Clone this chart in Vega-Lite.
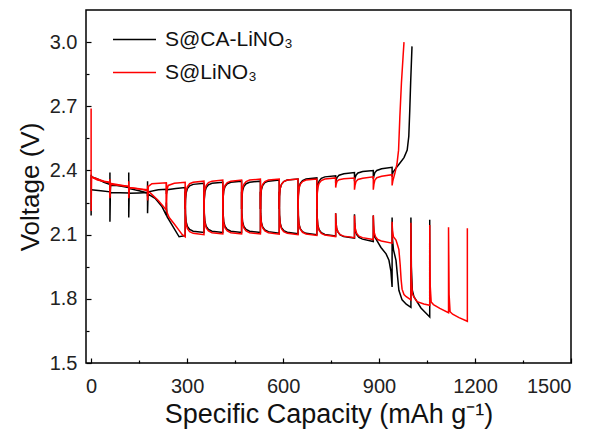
{
"$schema": "https://vega.github.io/schema/vega-lite/v6.json",
"width": 485, "height": 353,
"autosize": {"type": "none"},
"padding": {"left": 86, "top": 10, "right": 29, "bottom": 70},
"background": "white",
"config": {"view": {"stroke": "black", "strokeWidth": 1.5}, "font": "Liberation Sans"},
"data": {"values": [
{"s":"S@CA-LiNO₃","b":"d","x":0,"y":2.19},{"s":"S@CA-LiNO₃","b":"d","x":0,"y":2.38},{"s":"S@CA-LiNO₃","b":"d","x":2,"y":2.37},{"s":"S@CA-LiNO₃","b":"d","x":20,"y":2.36},{"s":"S@CA-LiNO₃","b":"d","x":40,"y":2.345},{"s":"S@CA-LiNO₃","b":"d","x":58.8,"y":2.335},{"s":"S@CA-LiNO₃","b":"d","x":58.8,"y":2.39},{"s":"S@CA-LiNO₃","b":"d","x":58.8,"y":2.16},{"s":"S@CA-LiNO₃","b":"d","x":60.5,"y":2.33},{"s":"S@CA-LiNO₃","b":"d","x":80,"y":2.33},{"s":"S@CA-LiNO₃","b":"d","x":100,"y":2.325},{"s":"S@CA-LiNO₃","b":"d","x":117.6,"y":2.32},{"s":"S@CA-LiNO₃","b":"d","x":117.6,"y":2.39},{"s":"S@CA-LiNO₃","b":"d","x":117.6,"y":2.18},{"s":"S@CA-LiNO₃","b":"d","x":119.3,"y":2.315},{"s":"S@CA-LiNO₃","b":"d","x":150,"y":2.305},{"s":"S@CA-LiNO₃","b":"d","x":176.4,"y":2.295},{"s":"S@CA-LiNO₃","b":"d","x":176.4,"y":2.35},{"s":"S@CA-LiNO₃","b":"d","x":176.4,"y":2.2},{"s":"S@CA-LiNO₃","b":"d","x":178,"y":2.29},{"s":"S@CA-LiNO₃","b":"d","x":200,"y":2.27},{"s":"S@CA-LiNO₃","b":"d","x":222,"y":2.23},{"s":"S@CA-LiNO₃","b":"d","x":235.2,"y":2.19},{"s":"S@CA-LiNO₃","b":"d","x":235.2,"y":2.25},{"s":"S@CA-LiNO₃","b":"d","x":237,"y":2.185},{"s":"S@CA-LiNO₃","b":"d","x":255,"y":2.14},{"s":"S@CA-LiNO₃","b":"d","x":275,"y":2.09},{"s":"S@CA-LiNO₃","b":"d","x":294,"y":2.095},{"s":"S@CA-LiNO₃","b":"d","x":294,"y":2.3},
{"s":"S@CA-LiNO₃","b":"d","x":295,"y":2.2},{"s":"S@CA-LiNO₃","b":"d","x":297,"y":2.16},{"s":"S@CA-LiNO₃","b":"d","x":301,"y":2.138},{"s":"S@CA-LiNO₃","b":"d","x":308,"y":2.124},{"s":"S@CA-LiNO₃","b":"d","x":319,"y":2.116},{"s":"S@CA-LiNO₃","b":"d","x":352.8,"y":2.11},{"s":"S@CA-LiNO₃","b":"d","x":352.8,"y":2.3},
{"s":"S@CA-LiNO₃","b":"d","x":353.8,"y":2.2},{"s":"S@CA-LiNO₃","b":"d","x":355.8,"y":2.16},{"s":"S@CA-LiNO₃","b":"d","x":359.8,"y":2.138},{"s":"S@CA-LiNO₃","b":"d","x":366.8,"y":2.124},{"s":"S@CA-LiNO₃","b":"d","x":377.8,"y":2.116},{"s":"S@CA-LiNO₃","b":"d","x":411.6,"y":2.11},{"s":"S@CA-LiNO₃","b":"d","x":411.6,"y":2.3},
{"s":"S@CA-LiNO₃","b":"d","x":412.6,"y":2.2},{"s":"S@CA-LiNO₃","b":"d","x":414.6,"y":2.16},{"s":"S@CA-LiNO₃","b":"d","x":418.6,"y":2.138},{"s":"S@CA-LiNO₃","b":"d","x":425.6,"y":2.124},{"s":"S@CA-LiNO₃","b":"d","x":436.6,"y":2.116},{"s":"S@CA-LiNO₃","b":"d","x":470.4,"y":2.11},{"s":"S@CA-LiNO₃","b":"d","x":470.4,"y":2.3},
{"s":"S@CA-LiNO₃","b":"d","x":471.4,"y":2.2},{"s":"S@CA-LiNO₃","b":"d","x":473.4,"y":2.16},{"s":"S@CA-LiNO₃","b":"d","x":477.4,"y":2.138},{"s":"S@CA-LiNO₃","b":"d","x":484.4,"y":2.124},{"s":"S@CA-LiNO₃","b":"d","x":495.4,"y":2.116},{"s":"S@CA-LiNO₃","b":"d","x":529.2,"y":2.11},{"s":"S@CA-LiNO₃","b":"d","x":529.2,"y":2.3},
{"s":"S@CA-LiNO₃","b":"d","x":530.2,"y":2.198},{"s":"S@CA-LiNO₃","b":"d","x":532.2,"y":2.158},{"s":"S@CA-LiNO₃","b":"d","x":536.2,"y":2.136},{"s":"S@CA-LiNO₃","b":"d","x":543.2,"y":2.122},{"s":"S@CA-LiNO₃","b":"d","x":554.2,"y":2.114},{"s":"S@CA-LiNO₃","b":"d","x":588,"y":2.107},{"s":"S@CA-LiNO₃","b":"d","x":588,"y":2.3},
{"s":"S@CA-LiNO₃","b":"d","x":589,"y":2.195},{"s":"S@CA-LiNO₃","b":"d","x":591,"y":2.155},{"s":"S@CA-LiNO₃","b":"d","x":595,"y":2.133},{"s":"S@CA-LiNO₃","b":"d","x":602,"y":2.119},{"s":"S@CA-LiNO₃","b":"d","x":613,"y":2.111},{"s":"S@CA-LiNO₃","b":"d","x":646.8,"y":2.104},{"s":"S@CA-LiNO₃","b":"d","x":646.8,"y":2.3},
{"s":"S@CA-LiNO₃","b":"d","x":647.8,"y":2.19},{"s":"S@CA-LiNO₃","b":"d","x":649.8,"y":2.15},{"s":"S@CA-LiNO₃","b":"d","x":653.8,"y":2.128},{"s":"S@CA-LiNO₃","b":"d","x":660.8,"y":2.114},{"s":"S@CA-LiNO₃","b":"d","x":671.8,"y":2.106},{"s":"S@CA-LiNO₃","b":"d","x":705.6,"y":2.1},{"s":"S@CA-LiNO₃","b":"d","x":705.6,"y":2.3},
{"s":"S@CA-LiNO₃","b":"d","x":706.6,"y":2.185},{"s":"S@CA-LiNO₃","b":"d","x":708.6,"y":2.145},{"s":"S@CA-LiNO₃","b":"d","x":712.6,"y":2.123},{"s":"S@CA-LiNO₃","b":"d","x":719.6,"y":2.109},{"s":"S@CA-LiNO₃","b":"d","x":730.6,"y":2.101},{"s":"S@CA-LiNO₃","b":"d","x":764.4,"y":2.094},{"s":"S@CA-LiNO₃","b":"d","x":764.4,"y":2.2},
{"s":"S@CA-LiNO₃","b":"d","x":765.4,"y":2.16},{"s":"S@CA-LiNO₃","b":"d","x":767.4,"y":2.13},{"s":"S@CA-LiNO₃","b":"d","x":771.4,"y":2.113},{"s":"S@CA-LiNO₃","b":"d","x":778.4,"y":2.099},{"s":"S@CA-LiNO₃","b":"d","x":789.4,"y":2.091},{"s":"S@CA-LiNO₃","b":"d","x":823.2,"y":2.084},{"s":"S@CA-LiNO₃","b":"d","x":823.2,"y":2.195},
{"s":"S@CA-LiNO₃","b":"d","x":824.2,"y":2.15},{"s":"S@CA-LiNO₃","b":"d","x":826.2,"y":2.118},{"s":"S@CA-LiNO₃","b":"d","x":830.2,"y":2.1},{"s":"S@CA-LiNO₃","b":"d","x":837.2,"y":2.087},{"s":"S@CA-LiNO₃","b":"d","x":848.2,"y":2.079},{"s":"S@CA-LiNO₃","b":"d","x":882,"y":2.068},{"s":"S@CA-LiNO₃","b":"d","x":882,"y":2.19},
{"s":"S@CA-LiNO₃","b":"d","x":883.5,"y":2.12},{"s":"S@CA-LiNO₃","b":"d","x":886,"y":2.09},{"s":"S@CA-LiNO₃","b":"d","x":892,"y":2.075},{"s":"S@CA-LiNO₃","b":"d","x":906,"y":2.04},{"s":"S@CA-LiNO₃","b":"d","x":922,"y":2.01},{"s":"S@CA-LiNO₃","b":"d","x":931,"y":1.98},{"s":"S@CA-LiNO₃","b":"d","x":937,"y":1.93},{"s":"S@CA-LiNO₃","b":"d","x":940.8,"y":1.855},{"s":"S@CA-LiNO₃","b":"d","x":940.8,"y":2.18},
{"s":"S@CA-LiNO₃","b":"d","x":942,"y":2.08},{"s":"S@CA-LiNO₃","b":"d","x":945,"y":2.03},{"s":"S@CA-LiNO₃","b":"d","x":953,"y":1.98},{"s":"S@CA-LiNO₃","b":"d","x":962,"y":1.84},{"s":"S@CA-LiNO₃","b":"d","x":972,"y":1.795},{"s":"S@CA-LiNO₃","b":"d","x":985,"y":1.775},{"s":"S@CA-LiNO₃","b":"d","x":999.6,"y":1.76},{"s":"S@CA-LiNO₃","b":"d","x":999.6,"y":2.18},
{"s":"S@CA-LiNO₃","b":"d","x":1001,"y":1.95},{"s":"S@CA-LiNO₃","b":"d","x":1004,"y":1.84},{"s":"S@CA-LiNO₃","b":"d","x":1009,"y":1.81},{"s":"S@CA-LiNO₃","b":"d","x":1031,"y":1.757},{"s":"S@CA-LiNO₃","b":"d","x":1058.4,"y":1.715},{"s":"S@CA-LiNO₃","b":"d","x":1058.4,"y":2.17},

{"s":"S@CA-LiNO₃","b":"c","x":0,"y":2.31},{"s":"S@CA-LiNO₃","b":"c","x":30,"y":2.305},{"s":"S@CA-LiNO₃","b":"c","x":58.8,"y":2.3},{"s":"S@CA-LiNO₃","b":"c","x":58.8,"y":2.285},{"s":"S@CA-LiNO₃","b":"c","x":61,"y":2.297},{"s":"S@CA-LiNO₃","b":"c","x":90,"y":2.296},{"s":"S@CA-LiNO₃","b":"c","x":117.6,"y":2.295},{"s":"S@CA-LiNO₃","b":"c","x":117.6,"y":2.28},{"s":"S@CA-LiNO₃","b":"c","x":120,"y":2.293},{"s":"S@CA-LiNO₃","b":"c","x":150,"y":2.295},{"s":"S@CA-LiNO₃","b":"c","x":176.4,"y":2.297},{"s":"S@CA-LiNO₃","b":"c","x":176.4,"y":2.28},{"s":"S@CA-LiNO₃","b":"c","x":179,"y":2.3},{"s":"S@CA-LiNO₃","b":"c","x":210,"y":2.31},{"s":"S@CA-LiNO₃","b":"c","x":235.2,"y":2.312},{"s":"S@CA-LiNO₃","b":"c","x":235.2,"y":2.29},{"s":"S@CA-LiNO₃","b":"c","x":238,"y":2.31},{"s":"S@CA-LiNO₃","b":"c","x":265,"y":2.316},{"s":"S@CA-LiNO₃","b":"c","x":294,"y":2.32},{"s":"S@CA-LiNO₃","b":"c","x":294,"y":2.22},
{"s":"S@CA-LiNO₃","b":"c","x":295,"y":2.26},{"s":"S@CA-LiNO₃","b":"c","x":297,"y":2.295},{"s":"S@CA-LiNO₃","b":"c","x":301,"y":2.315},{"s":"S@CA-LiNO₃","b":"c","x":308,"y":2.328},{"s":"S@CA-LiNO₃","b":"c","x":319,"y":2.335},{"s":"S@CA-LiNO₃","b":"c","x":352.8,"y":2.34},{"s":"S@CA-LiNO₃","b":"c","x":352.8,"y":2.22},
{"s":"S@CA-LiNO₃","b":"c","x":353.8,"y":2.265},{"s":"S@CA-LiNO₃","b":"c","x":355.8,"y":2.3},{"s":"S@CA-LiNO₃","b":"c","x":359.8,"y":2.32},{"s":"S@CA-LiNO₃","b":"c","x":366.8,"y":2.333},{"s":"S@CA-LiNO₃","b":"c","x":377.8,"y":2.34},{"s":"S@CA-LiNO₃","b":"c","x":411.6,"y":2.345},{"s":"S@CA-LiNO₃","b":"c","x":411.6,"y":2.22},
{"s":"S@CA-LiNO₃","b":"c","x":412.6,"y":2.27},{"s":"S@CA-LiNO₃","b":"c","x":414.6,"y":2.305},{"s":"S@CA-LiNO₃","b":"c","x":418.6,"y":2.325},{"s":"S@CA-LiNO₃","b":"c","x":425.6,"y":2.338},{"s":"S@CA-LiNO₃","b":"c","x":436.6,"y":2.345},{"s":"S@CA-LiNO₃","b":"c","x":470.4,"y":2.35},{"s":"S@CA-LiNO₃","b":"c","x":470.4,"y":2.22},
{"s":"S@CA-LiNO₃","b":"c","x":471.4,"y":2.27},{"s":"S@CA-LiNO₃","b":"c","x":473.4,"y":2.305},{"s":"S@CA-LiNO₃","b":"c","x":477.4,"y":2.325},{"s":"S@CA-LiNO₃","b":"c","x":484.4,"y":2.338},{"s":"S@CA-LiNO₃","b":"c","x":495.4,"y":2.345},{"s":"S@CA-LiNO₃","b":"c","x":529.2,"y":2.35},{"s":"S@CA-LiNO₃","b":"c","x":529.2,"y":2.22},
{"s":"S@CA-LiNO₃","b":"c","x":530.2,"y":2.275},{"s":"S@CA-LiNO₃","b":"c","x":532.2,"y":2.31},{"s":"S@CA-LiNO₃","b":"c","x":536.2,"y":2.33},{"s":"S@CA-LiNO₃","b":"c","x":543.2,"y":2.343},{"s":"S@CA-LiNO₃","b":"c","x":554.2,"y":2.35},{"s":"S@CA-LiNO₃","b":"c","x":588,"y":2.355},{"s":"S@CA-LiNO₃","b":"c","x":588,"y":2.22},
{"s":"S@CA-LiNO₃","b":"c","x":589,"y":2.28},{"s":"S@CA-LiNO₃","b":"c","x":591,"y":2.315},{"s":"S@CA-LiNO₃","b":"c","x":595,"y":2.335},{"s":"S@CA-LiNO₃","b":"c","x":602,"y":2.348},{"s":"S@CA-LiNO₃","b":"c","x":613,"y":2.355},{"s":"S@CA-LiNO₃","b":"c","x":646.8,"y":2.36},{"s":"S@CA-LiNO₃","b":"c","x":646.8,"y":2.22},
{"s":"S@CA-LiNO₃","b":"c","x":647.8,"y":2.285},{"s":"S@CA-LiNO₃","b":"c","x":649.8,"y":2.32},{"s":"S@CA-LiNO₃","b":"c","x":653.8,"y":2.34},{"s":"S@CA-LiNO₃","b":"c","x":660.8,"y":2.353},{"s":"S@CA-LiNO₃","b":"c","x":671.8,"y":2.36},{"s":"S@CA-LiNO₃","b":"c","x":705.6,"y":2.365},{"s":"S@CA-LiNO₃","b":"c","x":705.6,"y":2.22},
{"s":"S@CA-LiNO₃","b":"c","x":706.6,"y":2.295},{"s":"S@CA-LiNO₃","b":"c","x":708.6,"y":2.33},{"s":"S@CA-LiNO₃","b":"c","x":712.6,"y":2.35},{"s":"S@CA-LiNO₃","b":"c","x":719.6,"y":2.363},{"s":"S@CA-LiNO₃","b":"c","x":730.6,"y":2.37},{"s":"S@CA-LiNO₃","b":"c","x":764.4,"y":2.375},{"s":"S@CA-LiNO₃","b":"c","x":764.4,"y":2.34},
{"s":"S@CA-LiNO₃","b":"c","x":766,"y":2.355},{"s":"S@CA-LiNO₃","b":"c","x":769,"y":2.368},{"s":"S@CA-LiNO₃","b":"c","x":775,"y":2.378},{"s":"S@CA-LiNO₃","b":"c","x":790,"y":2.385},{"s":"S@CA-LiNO₃","b":"c","x":823.2,"y":2.39},{"s":"S@CA-LiNO₃","b":"c","x":823.2,"y":2.35},
{"s":"S@CA-LiNO₃","b":"c","x":825,"y":2.365},{"s":"S@CA-LiNO₃","b":"c","x":828,"y":2.378},{"s":"S@CA-LiNO₃","b":"c","x":834,"y":2.388},{"s":"S@CA-LiNO₃","b":"c","x":849,"y":2.395},{"s":"S@CA-LiNO₃","b":"c","x":882,"y":2.4},{"s":"S@CA-LiNO₃","b":"c","x":882,"y":2.36},
{"s":"S@CA-LiNO₃","b":"c","x":884,"y":2.375},{"s":"S@CA-LiNO₃","b":"c","x":887,"y":2.39},{"s":"S@CA-LiNO₃","b":"c","x":893,"y":2.4},{"s":"S@CA-LiNO₃","b":"c","x":908,"y":2.408},{"s":"S@CA-LiNO₃","b":"c","x":940.8,"y":2.415},{"s":"S@CA-LiNO₃","b":"c","x":940.8,"y":2.37},
{"s":"S@CA-LiNO₃","b":"c","x":943,"y":2.39},{"s":"S@CA-LiNO₃","b":"c","x":950,"y":2.405},{"s":"S@CA-LiNO₃","b":"c","x":963,"y":2.43},{"s":"S@CA-LiNO₃","b":"c","x":978,"y":2.46},{"s":"S@CA-LiNO₃","b":"c","x":988,"y":2.495},{"s":"S@CA-LiNO₃","b":"c","x":993,"y":2.56},{"s":"S@CA-LiNO₃","b":"c","x":996,"y":2.68},{"s":"S@CA-LiNO₃","b":"c","x":999,"y":2.82},{"s":"S@CA-LiNO₃","b":"c","x":1001,"y":2.9},{"s":"S@CA-LiNO₃","b":"c","x":1003,"y":2.98},

{"s":"S@LiNO₃","b":"d","x":0,"y":2.69},{"s":"S@LiNO₃","b":"d","x":0,"y":2.21},{"s":"S@LiNO₃","b":"d","x":1.5,"y":2.37},{"s":"S@LiNO₃","b":"d","x":20,"y":2.36},{"s":"S@LiNO₃","b":"d","x":40,"y":2.35},{"s":"S@LiNO₃","b":"d","x":58.8,"y":2.345},{"s":"S@LiNO₃","b":"d","x":58.8,"y":2.36},{"s":"S@LiNO₃","b":"d","x":58.8,"y":2.27},{"s":"S@LiNO₃","b":"d","x":60.5,"y":2.34},{"s":"S@LiNO₃","b":"d","x":117.6,"y":2.325},{"s":"S@LiNO₃","b":"d","x":117.6,"y":2.35},{"s":"S@LiNO₃","b":"d","x":117.6,"y":2.27},{"s":"S@LiNO₃","b":"d","x":119,"y":2.32},{"s":"S@LiNO₃","b":"d","x":150,"y":2.315},{"s":"S@LiNO₃","b":"d","x":176.4,"y":2.305},{"s":"S@LiNO₃","b":"d","x":176.4,"y":2.33},{"s":"S@LiNO₃","b":"d","x":176.4,"y":2.26},{"s":"S@LiNO₃","b":"d","x":178,"y":2.3},{"s":"S@LiNO₃","b":"d","x":185,"y":2.295},{"s":"S@LiNO₃","b":"d","x":210,"y":2.26},{"s":"S@LiNO₃","b":"d","x":235.2,"y":2.215},{"s":"S@LiNO₃","b":"d","x":235.2,"y":2.34},{"s":"S@LiNO₃","b":"d","x":235.2,"y":2.22},{"s":"S@LiNO₃","b":"d","x":237,"y":2.205},{"s":"S@LiNO₃","b":"d","x":244,"y":2.18},{"s":"S@LiNO₃","b":"d","x":260,"y":2.15},{"s":"S@LiNO₃","b":"d","x":275,"y":2.12},{"s":"S@LiNO₃","b":"d","x":285,"y":2.1},{"s":"S@LiNO₃","b":"d","x":294,"y":2.09},{"s":"S@LiNO₃","b":"d","x":294,"y":2.3},
{"s":"S@LiNO₃","b":"d","x":295,"y":2.19},{"s":"S@LiNO₃","b":"d","x":297,"y":2.15},{"s":"S@LiNO₃","b":"d","x":301,"y":2.128},{"s":"S@LiNO₃","b":"d","x":308,"y":2.114},{"s":"S@LiNO₃","b":"d","x":319,"y":2.106},{"s":"S@LiNO₃","b":"d","x":352.8,"y":2.1},{"s":"S@LiNO₃","b":"d","x":352.8,"y":2.3},
{"s":"S@LiNO₃","b":"d","x":353.8,"y":2.193},{"s":"S@LiNO₃","b":"d","x":355.8,"y":2.153},{"s":"S@LiNO₃","b":"d","x":359.8,"y":2.131},{"s":"S@LiNO₃","b":"d","x":366.8,"y":2.117},{"s":"S@LiNO₃","b":"d","x":377.8,"y":2.109},{"s":"S@LiNO₃","b":"d","x":411.6,"y":2.103},{"s":"S@LiNO₃","b":"d","x":411.6,"y":2.3},
{"s":"S@LiNO₃","b":"d","x":412.6,"y":2.193},{"s":"S@LiNO₃","b":"d","x":414.6,"y":2.153},{"s":"S@LiNO₃","b":"d","x":418.6,"y":2.131},{"s":"S@LiNO₃","b":"d","x":425.6,"y":2.117},{"s":"S@LiNO₃","b":"d","x":436.6,"y":2.109},{"s":"S@LiNO₃","b":"d","x":470.4,"y":2.103},{"s":"S@LiNO₃","b":"d","x":470.4,"y":2.3},
{"s":"S@LiNO₃","b":"d","x":471.4,"y":2.193},{"s":"S@LiNO₃","b":"d","x":473.4,"y":2.153},{"s":"S@LiNO₃","b":"d","x":477.4,"y":2.131},{"s":"S@LiNO₃","b":"d","x":484.4,"y":2.117},{"s":"S@LiNO₃","b":"d","x":495.4,"y":2.109},{"s":"S@LiNO₃","b":"d","x":529.2,"y":2.103},{"s":"S@LiNO₃","b":"d","x":529.2,"y":2.3},
{"s":"S@LiNO₃","b":"d","x":530.2,"y":2.193},{"s":"S@LiNO₃","b":"d","x":532.2,"y":2.153},{"s":"S@LiNO₃","b":"d","x":536.2,"y":2.131},{"s":"S@LiNO₃","b":"d","x":543.2,"y":2.117},{"s":"S@LiNO₃","b":"d","x":554.2,"y":2.109},{"s":"S@LiNO₃","b":"d","x":588,"y":2.102},{"s":"S@LiNO₃","b":"d","x":588,"y":2.3},
{"s":"S@LiNO₃","b":"d","x":589,"y":2.19},{"s":"S@LiNO₃","b":"d","x":591,"y":2.15},{"s":"S@LiNO₃","b":"d","x":595,"y":2.128},{"s":"S@LiNO₃","b":"d","x":602,"y":2.114},{"s":"S@LiNO₃","b":"d","x":613,"y":2.106},{"s":"S@LiNO₃","b":"d","x":646.8,"y":2.1},{"s":"S@LiNO₃","b":"d","x":646.8,"y":2.3},
{"s":"S@LiNO₃","b":"d","x":647.8,"y":2.187},{"s":"S@LiNO₃","b":"d","x":649.8,"y":2.147},{"s":"S@LiNO₃","b":"d","x":653.8,"y":2.125},{"s":"S@LiNO₃","b":"d","x":660.8,"y":2.111},{"s":"S@LiNO₃","b":"d","x":671.8,"y":2.103},{"s":"S@LiNO₃","b":"d","x":705.6,"y":2.096},{"s":"S@LiNO₃","b":"d","x":705.6,"y":2.3},
{"s":"S@LiNO₃","b":"d","x":706.6,"y":2.182},{"s":"S@LiNO₃","b":"d","x":708.6,"y":2.142},{"s":"S@LiNO₃","b":"d","x":712.6,"y":2.12},{"s":"S@LiNO₃","b":"d","x":719.6,"y":2.106},{"s":"S@LiNO₃","b":"d","x":730.6,"y":2.098},{"s":"S@LiNO₃","b":"d","x":764.4,"y":2.091},{"s":"S@LiNO₃","b":"d","x":764.4,"y":2.2},
{"s":"S@LiNO₃","b":"d","x":765.4,"y":2.16},{"s":"S@LiNO₃","b":"d","x":767.4,"y":2.13},{"s":"S@LiNO₃","b":"d","x":771.4,"y":2.113},{"s":"S@LiNO₃","b":"d","x":778.4,"y":2.1},{"s":"S@LiNO₃","b":"d","x":789.4,"y":2.093},{"s":"S@LiNO₃","b":"d","x":823.2,"y":2.086},{"s":"S@LiNO₃","b":"d","x":823.2,"y":2.19},
{"s":"S@LiNO₃","b":"d","x":824.2,"y":2.155},{"s":"S@LiNO₃","b":"d","x":826.2,"y":2.125},{"s":"S@LiNO₃","b":"d","x":830.2,"y":2.106},{"s":"S@LiNO₃","b":"d","x":837.2,"y":2.093},{"s":"S@LiNO₃","b":"d","x":848.2,"y":2.086},{"s":"S@LiNO₃","b":"d","x":882,"y":2.077},{"s":"S@LiNO₃","b":"d","x":882,"y":2.19},
{"s":"S@LiNO₃","b":"d","x":883,"y":2.145},{"s":"S@LiNO₃","b":"d","x":885,"y":2.11},{"s":"S@LiNO₃","b":"d","x":889,"y":2.09},{"s":"S@LiNO₃","b":"d","x":896,"y":2.077},{"s":"S@LiNO₃","b":"d","x":907,"y":2.07},{"s":"S@LiNO₃","b":"d","x":940.8,"y":2.06},{"s":"S@LiNO₃","b":"d","x":940.8,"y":2.16},
{"s":"S@LiNO₃","b":"d","x":942,"y":2.12},{"s":"S@LiNO₃","b":"d","x":945,"y":2.09},{"s":"S@LiNO₃","b":"d","x":953,"y":2.075},{"s":"S@LiNO₃","b":"d","x":958,"y":2.05},{"s":"S@LiNO₃","b":"d","x":962,"y":2.03},{"s":"S@LiNO₃","b":"d","x":966,"y":1.96},{"s":"S@LiNO₃","b":"d","x":969,"y":1.89},{"s":"S@LiNO₃","b":"d","x":972,"y":1.845},{"s":"S@LiNO₃","b":"d","x":978,"y":1.82},{"s":"S@LiNO₃","b":"d","x":985,"y":1.81},{"s":"S@LiNO₃","b":"d","x":999.6,"y":1.795},{"s":"S@LiNO₃","b":"d","x":999.6,"y":2.155},
{"s":"S@LiNO₃","b":"d","x":1001,"y":1.9},{"s":"S@LiNO₃","b":"d","x":1004,"y":1.825},{"s":"S@LiNO₃","b":"d","x":1009,"y":1.808},{"s":"S@LiNO₃","b":"d","x":1019,"y":1.787},{"s":"S@LiNO₃","b":"d","x":1040,"y":1.776},{"s":"S@LiNO₃","b":"d","x":1058.4,"y":1.77},{"s":"S@LiNO₃","b":"d","x":1058.4,"y":2.145},
{"s":"S@LiNO₃","b":"d","x":1060,"y":1.86},{"s":"S@LiNO₃","b":"d","x":1063,"y":1.785},{"s":"S@LiNO₃","b":"d","x":1070,"y":1.773},{"s":"S@LiNO₃","b":"d","x":1090,"y":1.755},{"s":"S@LiNO₃","b":"d","x":1117.2,"y":1.735},{"s":"S@LiNO₃","b":"d","x":1117.2,"y":2.135},
{"s":"S@LiNO₃","b":"d","x":1119,"y":1.82},{"s":"S@LiNO₃","b":"d","x":1122,"y":1.74},{"s":"S@LiNO₃","b":"d","x":1130,"y":1.728},{"s":"S@LiNO₃","b":"d","x":1150,"y":1.712},{"s":"S@LiNO₃","b":"d","x":1176,"y":1.695},{"s":"S@LiNO₃","b":"d","x":1176,"y":2.13},

{"s":"S@LiNO₃","b":"c","x":0,"y":2.37},{"s":"S@LiNO₃","b":"c","x":20,"y":2.355},{"s":"S@LiNO₃","b":"c","x":58.8,"y":2.342},{"s":"S@LiNO₃","b":"c","x":58.8,"y":2.28},{"s":"S@LiNO₃","b":"c","x":61,"y":2.335},{"s":"S@LiNO₃","b":"c","x":90,"y":2.33},{"s":"S@LiNO₃","b":"c","x":117.6,"y":2.325},{"s":"S@LiNO₃","b":"c","x":117.6,"y":2.28},{"s":"S@LiNO₃","b":"c","x":120,"y":2.32},{"s":"S@LiNO₃","b":"c","x":150,"y":2.313},{"s":"S@LiNO₃","b":"c","x":176.4,"y":2.31},{"s":"S@LiNO₃","b":"c","x":176.4,"y":2.28},{"s":"S@LiNO₃","b":"c","x":179,"y":2.325},{"s":"S@LiNO₃","b":"c","x":190,"y":2.338},{"s":"S@LiNO₃","b":"c","x":235.2,"y":2.342},{"s":"S@LiNO₃","b":"c","x":235.2,"y":2.23},{"s":"S@LiNO₃","b":"c","x":237,"y":2.31},{"s":"S@LiNO₃","b":"c","x":241,"y":2.33},{"s":"S@LiNO₃","b":"c","x":260,"y":2.34},{"s":"S@LiNO₃","b":"c","x":294,"y":2.345},{"s":"S@LiNO₃","b":"c","x":294,"y":2.22},
{"s":"S@LiNO₃","b":"c","x":295,"y":2.27},{"s":"S@LiNO₃","b":"c","x":297,"y":2.305},{"s":"S@LiNO₃","b":"c","x":301,"y":2.325},{"s":"S@LiNO₃","b":"c","x":308,"y":2.338},{"s":"S@LiNO₃","b":"c","x":319,"y":2.345},{"s":"S@LiNO₃","b":"c","x":352.8,"y":2.35},{"s":"S@LiNO₃","b":"c","x":352.8,"y":2.22},
{"s":"S@LiNO₃","b":"c","x":353.8,"y":2.275},{"s":"S@LiNO₃","b":"c","x":355.8,"y":2.31},{"s":"S@LiNO₃","b":"c","x":359.8,"y":2.33},{"s":"S@LiNO₃","b":"c","x":366.8,"y":2.343},{"s":"S@LiNO₃","b":"c","x":377.8,"y":2.35},{"s":"S@LiNO₃","b":"c","x":411.6,"y":2.355},{"s":"S@LiNO₃","b":"c","x":411.6,"y":2.22},
{"s":"S@LiNO₃","b":"c","x":412.6,"y":2.275},{"s":"S@LiNO₃","b":"c","x":414.6,"y":2.31},{"s":"S@LiNO₃","b":"c","x":418.6,"y":2.33},{"s":"S@LiNO₃","b":"c","x":425.6,"y":2.343},{"s":"S@LiNO₃","b":"c","x":436.6,"y":2.35},{"s":"S@LiNO₃","b":"c","x":470.4,"y":2.355},{"s":"S@LiNO₃","b":"c","x":470.4,"y":2.22},
{"s":"S@LiNO₃","b":"c","x":471.4,"y":2.28},{"s":"S@LiNO₃","b":"c","x":473.4,"y":2.315},{"s":"S@LiNO₃","b":"c","x":477.4,"y":2.335},{"s":"S@LiNO₃","b":"c","x":484.4,"y":2.348},{"s":"S@LiNO₃","b":"c","x":495.4,"y":2.355},{"s":"S@LiNO₃","b":"c","x":529.2,"y":2.36},{"s":"S@LiNO₃","b":"c","x":529.2,"y":2.22},
{"s":"S@LiNO₃","b":"c","x":530.2,"y":2.28},{"s":"S@LiNO₃","b":"c","x":532.2,"y":2.315},{"s":"S@LiNO₃","b":"c","x":536.2,"y":2.335},{"s":"S@LiNO₃","b":"c","x":543.2,"y":2.348},{"s":"S@LiNO₃","b":"c","x":554.2,"y":2.355},{"s":"S@LiNO₃","b":"c","x":588,"y":2.36},{"s":"S@LiNO₃","b":"c","x":588,"y":2.22},
{"s":"S@LiNO₃","b":"c","x":589,"y":2.28},{"s":"S@LiNO₃","b":"c","x":591,"y":2.315},{"s":"S@LiNO₃","b":"c","x":595,"y":2.335},{"s":"S@LiNO₃","b":"c","x":602,"y":2.348},{"s":"S@LiNO₃","b":"c","x":613,"y":2.355},{"s":"S@LiNO₃","b":"c","x":646.8,"y":2.36},{"s":"S@LiNO₃","b":"c","x":646.8,"y":2.22},
{"s":"S@LiNO₃","b":"c","x":647.8,"y":2.28},{"s":"S@LiNO₃","b":"c","x":649.8,"y":2.315},{"s":"S@LiNO₃","b":"c","x":653.8,"y":2.335},{"s":"S@LiNO₃","b":"c","x":660.8,"y":2.348},{"s":"S@LiNO₃","b":"c","x":671.8,"y":2.355},{"s":"S@LiNO₃","b":"c","x":705.6,"y":2.36},{"s":"S@LiNO₃","b":"c","x":705.6,"y":2.22},
{"s":"S@LiNO₃","b":"c","x":706.6,"y":2.285},{"s":"S@LiNO₃","b":"c","x":708.6,"y":2.32},{"s":"S@LiNO₃","b":"c","x":712.6,"y":2.34},{"s":"S@LiNO₃","b":"c","x":719.6,"y":2.353},{"s":"S@LiNO₃","b":"c","x":730.6,"y":2.36},{"s":"S@LiNO₃","b":"c","x":764.4,"y":2.365},{"s":"S@LiNO₃","b":"c","x":764.4,"y":2.32},
{"s":"S@LiNO₃","b":"c","x":766,"y":2.335},{"s":"S@LiNO₃","b":"c","x":769,"y":2.35},{"s":"S@LiNO₃","b":"c","x":775,"y":2.357},{"s":"S@LiNO₃","b":"c","x":790,"y":2.361},{"s":"S@LiNO₃","b":"c","x":823.2,"y":2.365},{"s":"S@LiNO₃","b":"c","x":823.2,"y":2.31},
{"s":"S@LiNO₃","b":"c","x":825,"y":2.33},{"s":"S@LiNO₃","b":"c","x":828,"y":2.348},{"s":"S@LiNO₃","b":"c","x":834,"y":2.358},{"s":"S@LiNO₃","b":"c","x":849,"y":2.364},{"s":"S@LiNO₃","b":"c","x":882,"y":2.37},{"s":"S@LiNO₃","b":"c","x":882,"y":2.31},
{"s":"S@LiNO₃","b":"c","x":884,"y":2.335},{"s":"S@LiNO₃","b":"c","x":887,"y":2.355},{"s":"S@LiNO₃","b":"c","x":893,"y":2.366},{"s":"S@LiNO₃","b":"c","x":908,"y":2.373},{"s":"S@LiNO₃","b":"c","x":940.8,"y":2.38},{"s":"S@LiNO₃","b":"c","x":940.8,"y":2.33},
{"s":"S@LiNO₃","b":"c","x":943,"y":2.35},{"s":"S@LiNO₃","b":"c","x":950,"y":2.39},{"s":"S@LiNO₃","b":"c","x":956,"y":2.43},{"s":"S@LiNO₃","b":"c","x":961,"y":2.495},{"s":"S@LiNO₃","b":"c","x":965,"y":2.65},{"s":"S@LiNO₃","b":"c","x":970,"y":2.81},{"s":"S@LiNO₃","b":"c","x":975,"y":2.93},{"s":"S@LiNO₃","b":"c","x":978,"y":3.0}
]},
"mark": {"type": "line", "strokeWidth": 1.5},
"encoding": {
  "x": {"field": "x", "type": "quantitative",
        "scale": {"domain": [-16, 1500], "nice": false, "zero": false},
        "axis": {"orient": "bottom", "values": [0, 150, 300, 450, 600, 750, 900, 1050, 1200, 1350, 1500], "format": "d",
                 "labelExpr": "datum.value % 300 == 0 ? datum.label : ''",
                 "tickSize": {"condition": {"test": "datum.value % 300 != 0", "value": -3}, "value": -5},
                 "tickColor": "black", "tickWidth": 1.2, "domain": false, "grid": false,
                 "labelFontSize": 20, "labelColor": "#222", "labelPadding": 18, "labelFont": "Liberation Sans",
                 "title": "Specific Capacity (mAh g⁻¹)", "titleFontSize": 27, "titleFontWeight": "normal", "titleColor": "#111", "titlePadding": 5, "titleFont": "Liberation Sans"}},
  "y": {"field": "y", "type": "quantitative",
        "scale": {"domain": [1.5, 3.15], "nice": false, "zero": false},
        "axis": {"orient": "left", "values": [1.5, 1.65, 1.8, 1.95, 2.1, 2.25, 2.4, 2.55, 2.7, 2.85, 3.0], "format": ".1f",
                 "labelExpr": "abs(datum.value*10 - round(datum.value*10)) > 0.2 ? '' : datum.label",
                 "tickSize": {"condition": {"test": "abs(datum.value*10 - round(datum.value*10)) > 0.2", "value": -3}, "value": -5},
                 "tickColor": "black", "tickWidth": 1.2, "domain": false, "grid": false,
                 "labelFontSize": 20, "labelColor": "#222", "labelPadding": 14, "labelFont": "Liberation Sans",
                 "title": "Voltage (V)", "titleFontSize": 26, "titleFontWeight": "normal", "titleColor": "#111", "titlePadding": 6, "titleFont": "Liberation Sans"}},
  "color": {"field": "s", "type": "nominal",
            "scale": {"domain": ["S@CA-LiNO₃", "S@LiNO₃"], "range": ["#000000", "#ff0000"]},
            "legend": {"title": null, "orient": "none", "legendX": 26, "legendY": 7, "symbolType": "stroke", "symbolSize": 1849, "symbolStrokeWidth": 1.5,
                       "labelFontSize": 21, "labelColor": "#111", "labelFont": "Liberation Sans", "labelOffset": 8, "rowPadding": -13}},
  "detail": {"field": "b"},
  "order": {"value": null}
}
}
